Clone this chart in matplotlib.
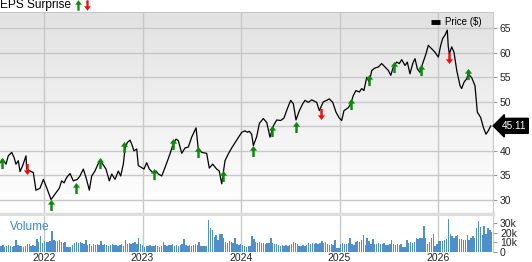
import numpy as np
import matplotlib.pyplot as plt
from matplotlib.path import Path
from matplotlib.colors import LinearSegmentedColormap
import matplotlib.transforms as mtransforms

plt.rcParams['font.family'] = ['Liberation Sans', 'DejaVu Sans']

# weekly-ish closing price, x in fractional years
price_t = [2021.553, 2021.580, 2021.614, 2021.637, 2021.672, 2021.695, 2021.715, 2021.739, 2021.756, 2021.783,
           2021.817, 2021.824, 2021.858, 2021.891, 2021.918, 2021.959, 2021.993, 2022.027, 2022.071, 2022.111,
           2022.155, 2022.179, 2022.203, 2022.230, 2022.264, 2022.297, 2022.338, 2022.365, 2022.399, 2022.426,
           2022.460, 2022.484, 2022.517, 2022.541, 2022.568, 2022.596, 2022.629, 2022.663, 2022.687, 2022.721,
           2022.754, 2022.778, 2022.805, 2022.822, 2022.845, 2022.873, 2022.890, 2022.913, 2022.941, 2022.957,
           2022.992, 2023.015, 2023.042, 2023.069, 2023.103, 2023.137, 2023.160, 2023.195, 2023.228, 2023.262,
           2023.279, 2023.312, 2023.340, 2023.363, 2023.398, 2023.431, 2023.465, 2023.499, 2023.543, 2023.566,
           2023.601, 2023.651, 2023.678, 2023.712, 2023.753, 2023.779, 2023.804, 2023.837, 2023.871, 2023.905,
           2023.956, 2024.007, 2024.040, 2024.064, 2024.084, 2024.108, 2024.125, 2024.159, 2024.186, 2024.226,
           2024.261, 2024.294, 2024.328, 2024.362, 2024.403, 2024.436, 2024.470, 2024.504, 2024.531, 2024.558,
           2024.592, 2024.626, 2024.649, 2024.683, 2024.717, 2024.768, 2024.795, 2024.835, 2024.870, 2024.896,
           2024.931, 2024.964, 2024.998, 2025.022, 2025.045, 2025.089, 2025.113, 2025.140, 2025.167, 2025.201,
           2025.225, 2025.248, 2025.276, 2025.302, 2025.327, 2025.360, 2025.394, 2025.428, 2025.462, 2025.495,
           2025.520, 2025.546, 2025.580, 2025.607, 2025.631, 2025.665, 2025.688, 2025.715, 2025.743, 2025.766,
           2025.790, 2025.817, 2025.844, 2025.878, 2025.901, 2025.936, 2025.969, 2026.003, 2026.027, 2026.047,
           2026.071, 2026.094, 2026.104, 2026.115, 2026.139, 2026.162, 2026.190, 2026.223, 2026.240, 2026.264,
           2026.291, 2026.307, 2026.342, 2026.375, 2026.399, 2026.433, 2026.460, 2026.487, 2026.510, 2026.535]
price = [37.6, 38.3, 37.3, 39.0, 39.7, 38.7, 37.3, 38.0, 35.8, 37.0,
         39.0, 36.3, 35.9, 35.6, 32.0, 32.4, 34.2, 32.5, 30.1, 31.2,
         32.4, 33.9, 33.5, 34.6, 35.4, 33.9, 34.2, 34.9, 36.3, 34.6,
         32.0, 34.9, 35.9, 37.0, 38.0, 37.3, 36.3, 33.9, 35.3, 34.2,
         35.9, 34.9, 37.3, 40.4, 41.7, 42.2, 41.4, 40.0, 40.4, 37.0,
         36.6, 36.3, 37.6, 36.3, 35.6, 35.9, 35.3, 34.9, 36.6, 38.5,
         39.4, 41.5, 42.4, 42.1, 39.5, 40.6, 40.8, 42.8, 44.7, 40.4,
         39.7, 39.5, 36.5, 37.3, 36.3, 35.9, 33.3, 38.0, 39.4, 40.6,
         42.2, 43.8, 44.1, 43.8, 44.0, 43.4, 41.1, 42.9, 45.6, 46.6,
         45.8, 42.8, 45.1, 46.3, 46.2, 46.7, 48.6, 50.3, 49.6, 46.3,
         48.2, 49.6, 50.3, 49.9, 50.4, 49.9, 48.2, 50.0, 50.3, 50.6,
         49.9, 47.9, 46.7, 46.2, 48.2, 48.8, 49.6, 51.3, 52.3, 52.0,
         52.7, 52.3, 55.0, 54.0, 56.4, 56.9, 57.1, 57.8, 57.1, 56.4,
         55.4, 57.1, 58.1, 57.8, 58.6, 57.4, 58.1, 55.7, 57.8, 58.8,
         56.7, 56.0, 57.8, 59.8, 61.5, 60.8, 60.1, 59.1, 61.5, 62.9,
         63.6, 64.6, 61.2, 59.8, 61.2, 60.1, 56.4, 53.3, 52.7, 54.0,
         54.7, 55.7, 54.9, 53.3, 47.9, 46.8, 44.8, 43.4, 44.1, 45.11]
last_price = 45.11

# earnings surprise markers (G = beat, R = miss)
eps_t = [2021.570, 2021.824, 2022.071, 2022.325, 2022.568, 2022.815, 2023.120, 2023.312, 2023.566, 2023.814,
         2024.125, 2024.311, 2024.558, 2024.809, 2025.113, 2025.302, 2025.553, 2025.824, 2026.115, 2026.307]
eps_y = [37.6, 36.3, 29.0, 32.5, 37.6, 40.8, 35.4, 41.4, 39.7, 34.9,
         40.0, 44.0, 44.8, 47.5, 49.6, 54.4, 57.1, 56.4, 59.0, 55.7]
eps_kind = "GRGGGGGGGGGGGRGGGGRG"

# weekly volume in thousands
volume_k = [6, 7, 5, 6, 7, 6, 5, 6, 12, 7, 6, 6, 5, 6, 8, 8, 6, 7, 6, 13,
            10, 16, 9, 11, 10, 10, 11, 22, 12, 11, 11, 12, 10, 9, 10, 5, 5, 5, 7, 9,
            10, 9, 10, 9, 8, 12, 7, 8, 6, 8, 7, 8, 7, 11, 7, 8, 7, 6, 7, 8,
            7, 7, 6, 7, 8, 6, 12, 8, 9, 8, 9, 10, 8, 14, 8, 7, 5, 6, 6, 7,
            6, 6, 7, 6, 5, 6, 10, 7, 6, 7, 7, 8, 6, 7, 6, 7, 8, 13, 7, 6,
            7, 6, 7, 8, 7, 10, 6, 6, 6, 6, 33, 25, 23, 15, 17, 12, 18, 18, 14, 10,
            9, 11, 10, 9, 14, 8, 7, 8, 7, 6, 5, 6, 6, 16, 13, 10, 9, 10, 9, 9,
            8, 9, 9, 14, 9, 8, 8, 7, 6, 7, 6, 7, 6, 7, 8, 10, 9, 8, 6, 6,
            7, 6, 7, 9, 8, 9, 8, 9, 8, 9, 11, 9, 10, 8, 7, 8, 7, 12, 4, 4,
            8, 9, 8, 8, 9, 14, 8, 7, 10, 11, 10, 12, 17, 7, 14, 11, 8, 13, 8, 8,
            9, 8, 8, 9, 7, 7, 8, 12, 8, 7, 8, 7, 8, 5, 5, 12, 9, 10, 9, 10,
            14, 13, 14, 14, 27, 14, 8, 10, 14, 18, 6, 8, 11, 11, 11, 12, 13, 34, 18, 16,
            14, 16, 17, 13, 13, 12, 12, 17, 12, 14, 16, 14, 25, 32, 26, 17, 27, 19, 25, 23, 21]

year_ticks = [2022, 2023, 2024, 2025, 2026]
price_ticks = [30, 35, 40, 45, 50, 55, 60, 65]
# the 45 label sits under the last-price tag
price_labels = ['30', '35', '40', '', '50', '55', '60', '65']
vol_ticks = [0, 10, 20, 30]
vol_labels = ['0', '10k', '20k', '30k']

W, H = 532, 262
x0, x1 = 2021.553, 2026.558
grid_c = '#c8c8c8'

up = Path([(0, 1), (0.65, 0.15), (0.22, 0.15), (0.22, -1), (-0.22, -1),
           (-0.22, 0.15), (-0.65, 0.15), (0, 1)], closed=True)
down = Path([(x, -y) for x, y in up.vertices], closed=True)

fig = plt.figure(figsize=(W / 100, H / 100), dpi=100)
ax = fig.add_axes([0, 1 - 214 / H, 493 / W, 202 / H])
axv = fig.add_axes([0, 1 - 252 / H, 493 / W, 36 / H])

# price panel
cmap = LinearSegmentedColormap.from_list('bg', ['#e2e2e2', '#ffffff'])
ax.imshow(np.linspace(0, 1, 100).reshape(-1, 1), cmap=cmap, extent=[0, 1, 0, 1],
          transform=ax.transAxes, aspect='auto', zorder=0)
ax.plot(price_t, price, color='black', lw=0.9, zorder=3)
for t, y, k in zip(eps_t, eps_y, eps_kind):
    ax.plot(t, y, marker=up if k == 'G' else down, ms=8, mew=0,
            color='#0a8a0a' if k == 'G' else '#e81010', zorder=4)
ax.set_xlim(x0, x1)
ax.set_ylim(27.15, 68.3)
ax.set_xticks(year_ticks)
ax.set_yticks(price_ticks)
ax.set_yticklabels(price_labels)
ax.grid(True, color=grid_c, lw=1)
ax.set_axisbelow(True)
ax.yaxis.tick_right()
ax.tick_params(axis='y', length=3, color='#999999', labelsize=7.5, pad=2, labelcolor='#222222')
ax.tick_params(axis='x', length=0, labelbottom=False)
ax.spines['left'].set_visible(False)
ax.spines['top'].set_color(grid_c)
ax.spines['right'].set_color(grid_c)
ax.spines['bottom'].set_color('#dddddd')
ax.spines['bottom'].set_linewidth(2.5)

# legend and last price tag
ax.plot([0.875, 0.893], [0.95, 0.95], transform=ax.transAxes, color='black', lw=3.5, solid_capstyle='butt')
ax.text(0.903, 0.95, 'Price ($)', transform=ax.transAxes, fontsize=7, va='center', ha='left')
tr = mtransforms.blended_transform_factory(ax.transAxes, ax.transData)
ax.annotate(f'{last_price:.2f}', xy=(1.0, last_price), xycoords=tr, xytext=(6, 0),
            textcoords='offset points', fontsize=7.2, color='white', va='center', ha='left',
            bbox=dict(boxstyle='larrow,pad=0.25', fc='black', ec='black'), annotation_clip=False,
            zorder=10)

# volume panel
vol_t = x0 + (np.arange(len(volume_k)) + 0.5) / 52.18
axv.bar(vol_t, volume_k, width=0.75 / 52.18, color='#4f8fcc', lw=0)
axv.set_xlim(x0, x1)
axv.set_ylim(0, 37)
axv.set_xticks(year_ticks)
axv.set_xticklabels([str(y) for y in year_ticks])
axv.set_yticks(vol_ticks)
axv.set_yticklabels(vol_labels)
axv.grid(True, axis='x', color=grid_c, lw=1)
axv.set_axisbelow(True)
axv.yaxis.tick_right()
axv.tick_params(axis='y', length=3, color='#999999', labelsize=7.5, pad=2, labelcolor='#222222')
axv.tick_params(axis='x', length=0, labelsize=7.5, pad=1, labelcolor='#222222')
for s in ['left', 'top', 'bottom']:
    axv.spines[s].set_visible(False)
axv.spines['right'].set_color(grid_c)
axv.text(0.02, 0.70, 'Volume', transform=axv.transAxes, color='#3a87c8', fontsize=8.5, va='center')

# header
fig.text(0.0, 1 - 5 / H, 'EPS Surprise', fontsize=8.6, va='center', ha='left')
fig.lines.append(plt.Line2D([77.5 / W], [1 - 4.5 / H], marker=up, ms=7.5, mew=0, color='#0a8a0a',
                            transform=fig.transFigure))
fig.lines.append(plt.Line2D([86.5 / W], [1 - 4.5 / H], marker=down, ms=7.5, mew=0, color='#e81010',
                            transform=fig.transFigure))

fig.savefig('out.png', dpi=100)
